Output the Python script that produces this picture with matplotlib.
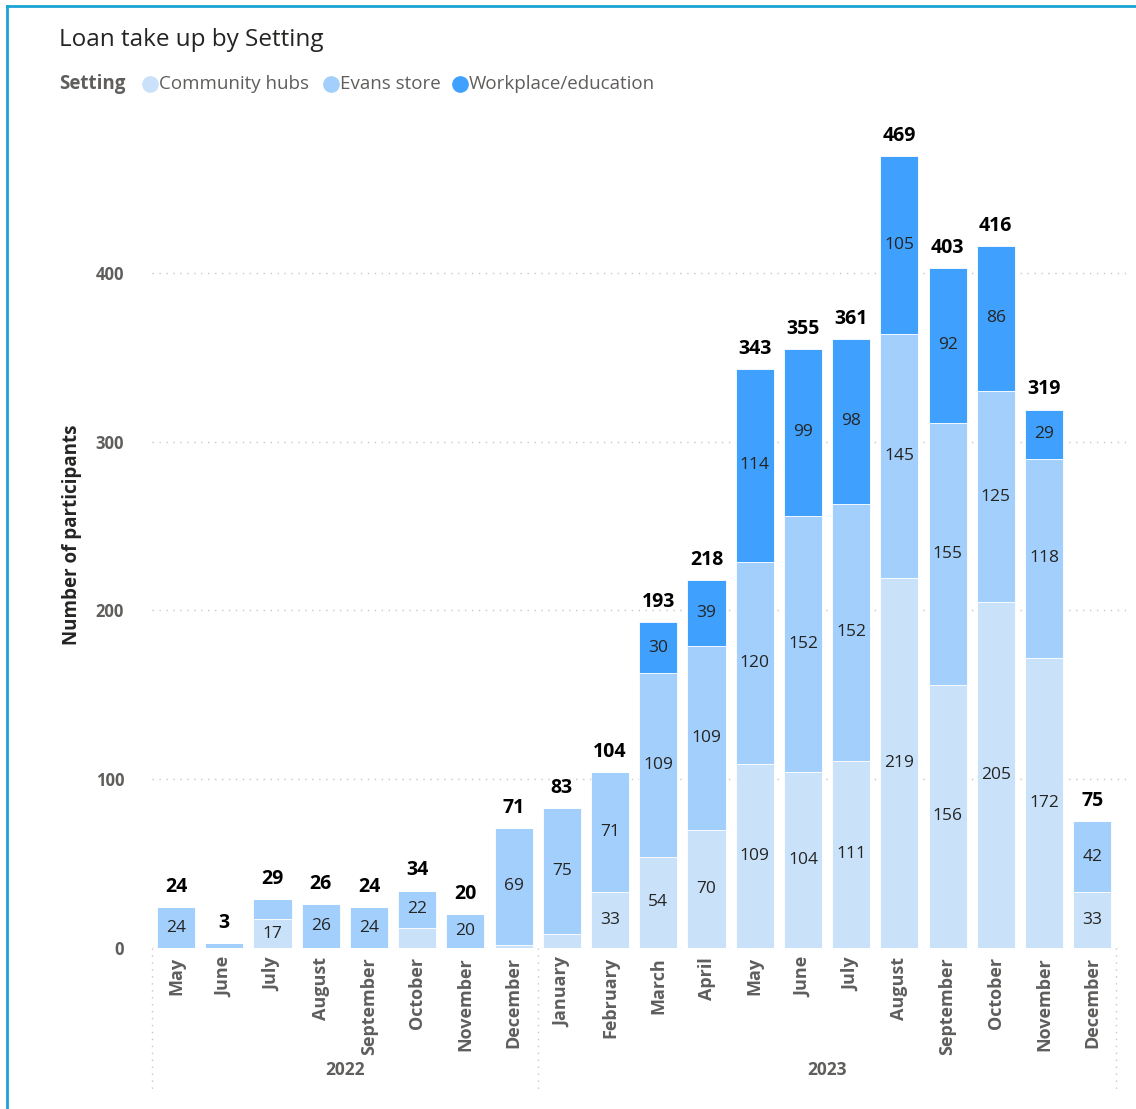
import numpy as np
import matplotlib
matplotlib.use("Agg")
import matplotlib.pyplot as plt
from matplotlib.lines import Line2D

plt.rcParams['font.family'] = ['Open Sans', 'DejaVu Sans']

months = ["May", "June", "July", "August", "September", "October", "November", "December",
          "January", "February", "March", "April", "May", "June", "July", "August",
          "September", "October", "November", "December"]
years = ["2022", "2023"]
year_counts = [8, 12]

community = [0, 0, 17, 0, 0, 12, 0, 2, 8, 33, 54, 70, 109, 104, 111, 219, 156, 205, 172, 33]
evans = [24, 3, 12, 26, 24, 22, 20, 69, 75, 71, 109, 109, 120, 152, 152, 145, 155, 125, 118, 42]
workplace = [0, 0, 0, 0, 0, 0, 0, 0, 0, 0, 30, 39, 114, 99, 98, 105, 92, 86, 29, 0]

series = ["Community hubs", "Evans store", "Workplace/education"]
colors = ["#C9E2F9", "#A2CFFC", "#3FA1FD"]

W, H = 1136, 1109
fig = plt.figure(figsize=(W / 100, H / 100), dpi=100)

# axes placed in pixel terms
x0, x1 = 152, 1126
ytop, ybot = 121, 948
ax = fig.add_axes([x0 / W, 1 - ybot / H, (x1 - x0) / W, (ybot - ytop) / H])

x = np.arange(len(months))
data = [community, evans, workplace]
bottom = np.zeros(len(months))
for vals, col in zip(data, colors):
    vals = np.array(vals)
    ax.bar(x, vals, 0.79, bottom=bottom, color=col, edgecolor="white", linewidth=0.6, zorder=3)
    for xi, v, b in zip(x, vals, bottom):
        if v >= 15:
            ax.text(xi, b + v / 2, str(v), ha="center", va="center", fontsize=12.5,
                    color="#252423", zorder=4)
    bottom += vals

for xi, t in zip(x, bottom):
    ax.text(xi, t + 6, str(int(t)), ha="center", va="bottom", fontsize=14,
            fontweight="bold", color="black", zorder=4)

ax.set_xlim(-0.5, 19.7)
ax.set_ylim(0, 490)
ax.set_yticks([0, 100, 200, 300, 400])
ax.set_yticklabels(["0", "100", "200", "300", "400"], fontsize=12, fontweight="bold",
                   color="#605E5C")
ax.tick_params(axis="y", length=0, pad=20)
ax.set_xticks([])
for s in ax.spines.values():
    s.set_visible(False)
for yv in [0, 100, 200, 300, 400]:
    ax.axhline(yv, color="#C8C6C4", linestyle=(0, (1, 4)), linewidth=1, zorder=1)

ax.set_ylabel("Number of participants", fontsize=13.5, fontweight="bold", color="#252423",
              labelpad=10)

# month labels and year groups
trans = ax.get_xaxis_transform()
for xi, m in zip(x, months):
    ax.text(xi, -0.011, m, rotation=90, ha="center", va="top", fontsize=13,
            fontweight="bold", color="#605E5C", transform=trans, clip_on=False)

start = -0.5
for yr, n in zip(years, year_counts):
    end = start + n
    ax.text((start + end) / 2, -0.148, yr, ha="center", va="center", fontsize=12.5,
            fontweight="bold", color="#605E5C", transform=trans, clip_on=False)
    start = end
for sep in [-0.5, 7.5, 19.5]:
    ax.add_line(Line2D([sep, sep], [0, -0.172], transform=trans, clip_on=False,
                       color="#C8C6C4", linestyle=(0, (1, 4)), linewidth=1))

# title and legend
fig.text(59 / W, 1 - 40 / H, "Loan take up by Setting", fontsize=17.5, color="#252423",
         va="center", ha="left")
fig.text(59 / W, 1 - 84 / H, "Setting", fontsize=13.5, fontweight="bold", color="#605E5C",
         va="center", ha="left")
lx = [150, 331, 460]
for px, name, col in zip(lx, series, colors):
    fig.add_artist(Line2D([px / W], [1 - 84 / H], marker="o", markersize=11,
                          color=col, linestyle="none"))
    fig.text((px + 9) / W, 1 - 84 / H, name, fontsize=13.5, color="#605E5C",
             va="center", ha="left")

# outer frame
fig.add_artist(Line2D([7 / W, 7 / W], [0, 1 - 6 / H], color="#1AA3D4", linewidth=2))
fig.add_artist(Line2D([7 / W, 1], [1 - 6 / H, 1 - 6 / H], color="#1AA3D4", linewidth=2))

fig.savefig("out.png", dpi=100)
